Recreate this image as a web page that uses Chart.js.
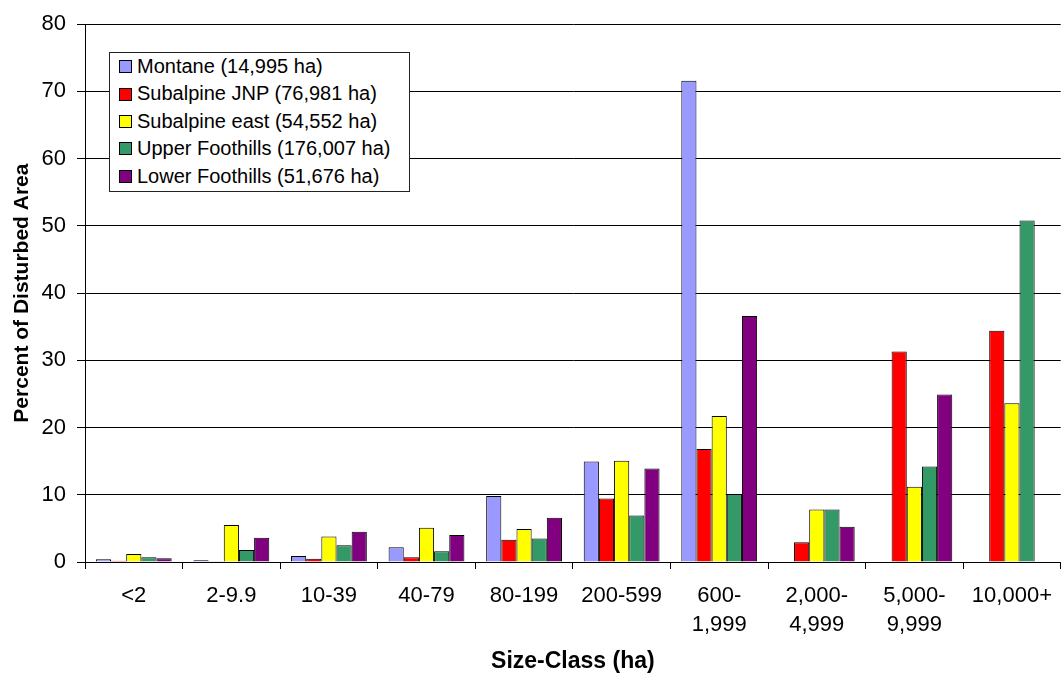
<!DOCTYPE html>
<html>
<head>
<meta charset="utf-8">
<script src="https://cdn.jsdelivr.net/npm/chart.js@4/dist/chart.umd.min.js"></script>
<style>
    html, body { margin: 0; padding: 0; background: #fff; overflow: hidden; }
    #wrap { position: relative; width: 1062px; height: 675px; overflow: hidden; }
    #legendBox {
        position: absolute; left: 109px; top: 52px; width: 290px;
        border: 1px solid #222; background: #fff;
        font-family: "Liberation Sans", Arial, sans-serif; font-size: 20px; color: #000;
        padding: 0 0 1px 9px; box-sizing: content-box;
    }
    .legRow { height: 27.4px; line-height: 27.4px; white-space: nowrap; display: flex; align-items: center; }
    .legRow span.sw { display: inline-block; width: 11px; height: 11px; border: 1px solid #000; margin-right: 5px; }
</style>
</head>
<body>
<div id="wrap">
    <canvas id="chart" width="1064" height="675"></canvas>
    <div id="legendBox"></div>
</div>
<script>
// categories and series (percent of disturbed area)
const sizeClasses = [['<2'], ['2-9.9'], ['10-39'], ['40-79'], ['80-199'], ['200-599'],
    ['600-', '1,999'], ['2,000-', '4,999'], ['5,000-', '9,999'], ['10,000+']];

const seriesNames = ['Montane (14,995 ha)', 'Subalpine JNP (76,981 ha)', 'Subalpine east (54,552 ha)',
    'Upper Foothills (176,007 ha)', 'Lower Foothills (51,676 ha)'];
const seriesColors = ['#9999FF', '#FF0000', '#FFFF00', '#339966', '#800080'];

const montane = [0.4, 0.25, 0.9, 2.2, 9.8, 14.95, 71.6, null, null, null];
const subalpineJNP = [0.2, 0.1, 0.5, 0.7, 3.3, 9.45, 16.8, 2.95, 31.3, 34.4];
const subalpineEast = [1.2, 5.5, 3.8, 5.1, 4.9, 15.05, 21.7, 7.8, 11.2, 23.6];
const upperFoothills = [0.7, 1.8, 2.5, 1.6, 3.5, 6.9, 10.1, 7.8, 14.2, 50.8];
const lowerFoothills = [0.55, 3.6, 4.5, 4.0, 6.6, 13.9, 36.6, 5.25, 24.9, null];

const yTicks = [0, 10, 20, 30, 40, 50, 60, 70, 80];

const allSeries = [montane, subalpineJNP, subalpineEast, upperFoothills, lowerFoothills];
const fontFamily = '"Liberation Sans", Arial, sans-serif';

const datasets = allSeries.map((values, i) => ({
    label: seriesNames[i],
    data: values,
    backgroundColor: seriesColors[i],
    borderColor: '#000',
    borderWidth: 1,
    borderSkipped: 'bottom',
    barPercentage: 1.0,
    categoryPercentage: 0.777
}));

const ctx = document.getElementById('chart').getContext('2d');
new Chart(ctx, {
    type: 'bar',
    data: { labels: sizeClasses, datasets: datasets },
    options: {
        responsive: false,
        animation: false,
        devicePixelRatio: 1,
        layout: { padding: { left: 0, right: 0, top: 19, bottom: 0 } },
        plugins: {
            legend: { display: false },
            tooltip: { enabled: false }
        },
        scales: {
            x: {
                afterFit: (scale) => { scale.height = 113; },
                grid: { display: true, drawOnChartArea: false, drawTicks: true, tickLength: 7, color: '#000', offset: true },
                border: { display: true, color: '#000', width: 1 },
                ticks: {
                    color: '#000',
                    padding: 12,
                    maxRotation: 0,
                    autoSkip: false,
                    font: { family: fontFamily, size: 22, lineHeight: 1.32 }
                },
                title: {
                    display: true,
                    text: 'Size-Class (ha)',
                    color: '#000',
                    padding: { top: 0, bottom: 0 },
                    font: { family: fontFamily, size: 23, weight: 'bold', lineHeight: 1.2 }
                }
            },
            y: {
                min: 0,
                max: 80,
                afterFit: (scale) => { scale.width = 85; },
                afterBuildTicks: (scale) => { scale.ticks = yTicks.map(v => ({ value: v })); },
                grid: { color: '#000', lineWidth: 1, drawTicks: true, tickLength: 8 },
                border: { display: true, color: '#000', width: 1 },
                ticks: {
                    color: '#000',
                    padding: 11,
                    font: { family: fontFamily, size: 22 }
                },
                title: {
                    display: true,
                    text: 'Percent of Disturbed Area',
                    color: '#000',
                    padding: { top: 10, bottom: 0 },
                    font: { family: fontFamily, size: 21, weight: 'bold', lineHeight: 1.2 }
                }
            }
        }
    }
});

// legend box inside the plot, built from the series names and colours
const legendBox = document.getElementById('legendBox');
seriesNames.forEach((name, i) => {
    const row = document.createElement('div');
    row.className = 'legRow';
    const sw = document.createElement('span');
    sw.className = 'sw';
    sw.style.backgroundColor = seriesColors[i];
    row.appendChild(sw);
    row.appendChild(document.createTextNode(name));
    legendBox.appendChild(row);
});
</script>
</body>
</html>
